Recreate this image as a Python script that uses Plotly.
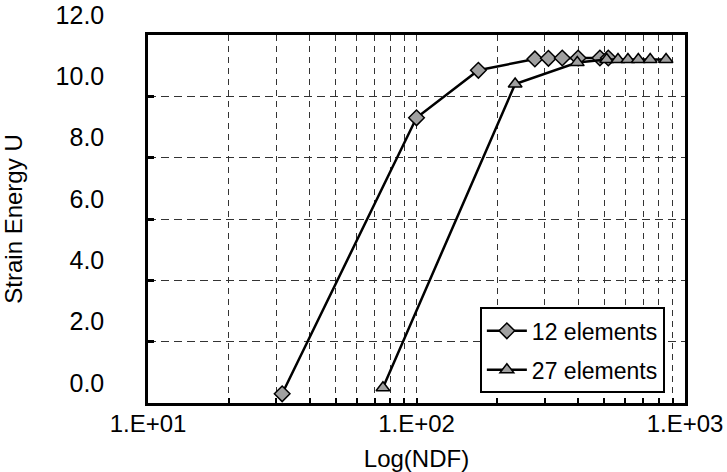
import plotly.graph_objects as go

# data
ndf_12 = [31.6, 100, 170, 276, 310, 349, 400, 482, 518]
u_12 = [0.3, 9.3, 10.85, 11.22, 11.24, 11.25, 11.25, 11.25, 11.25]
ndf_27 = [75, 233, 397, 511, 563, 613, 670, 742, 850]
u_27 = [0.5, 10.4, 11.1, 11.2, 11.2, 11.2, 11.2, 11.2, 11.2]

x_tickvals = [10, 20, 30, 40, 50, 60, 70, 80, 90,
              100, 200, 300, 400, 500, 600, 700, 800, 900, 1000]
x_ticktext = ["1.E+01", "", "", "", "", "", "", "", "",
              "1.E+02", "", "", "", "", "", "", "", "", "1.E+03"]
y_tickvals = [0, 2, 4, 6, 8, 10, 12]

FONT = "Liberation Sans, Arial, sans-serif"
fig = go.Figure()
fig.add_trace(go.Scatter(
    x=ndf_12, y=u_12, mode="lines+markers", name="12 elements",
    legendgroup="a",
    line=dict(color="black", width=2.5),
    marker=dict(symbol="diamond", size=12, color="#a0a0a0",
                line=dict(color="black", width=1.5)),
))
fig.add_trace(go.Scatter(
    x=ndf_27, y=u_27, mode="lines+markers", name="27 elements",
    legendgroup="b",
    line=dict(color="black", width=2.5),
    marker=dict(symbol="triangle-up", size=12, color="#a0a0a0",
                line=dict(color="black", width=1.5)),
))

fig.update_layout(
    width=727, height=472,
    margin=dict(l=148, r=42, t=35, b=69, pad=0),
    paper_bgcolor="white", plot_bgcolor="white",
    font=dict(family=FONT, size=24, color="black"),
    showlegend=True,
    legend=dict(
        x=0.618, y=0.26, xanchor="left", yanchor="top",
        bgcolor="white", bordercolor="black", borderwidth=2,
        font=dict(size=23, color="black"),
        traceorder="grouped", tracegroupgap=6,
        itemwidth=40,
    ),
    xaxis=dict(
        type="log", range=[1, 3],
        tickvals=x_tickvals, ticktext=x_ticktext,
        tickfont=dict(size=24),
        showgrid=True, gridcolor="#333333", gridwidth=1, griddash="6px,5px",
        showline=True, linecolor="black", linewidth=2.5, mirror=True,
        ticks="inside", ticklen=5, tickwidth=1.5, tickcolor="black",
        ticklabelstandoff=-3,
        zeroline=False, automargin=False,
        title=dict(text="Log(NDF)", font=dict(size=24), standoff=18),
    ),
    yaxis=dict(
        range=[0, 12], tickvals=y_tickvals, tickformat=".1f",
        tickfont=dict(size=25),
        showgrid=True, gridcolor="#333333", gridwidth=1, griddash="8px,5px",
        showline=True, linecolor="black", linewidth=2.5, mirror=True,
        ticks="inside", ticklen=6, tickwidth=2.5, tickcolor="black",
        ticklabelshift=-20, ticklabelstandoff=36,
        zeroline=False, automargin=False,
        title=dict(text="Strain Energy U", font=dict(size=24), standoff=64),
    ),
)

fig.write_html("out.html",
               config={"displayModeBar": False},
               post_script="document.body.style.margin='0';")
